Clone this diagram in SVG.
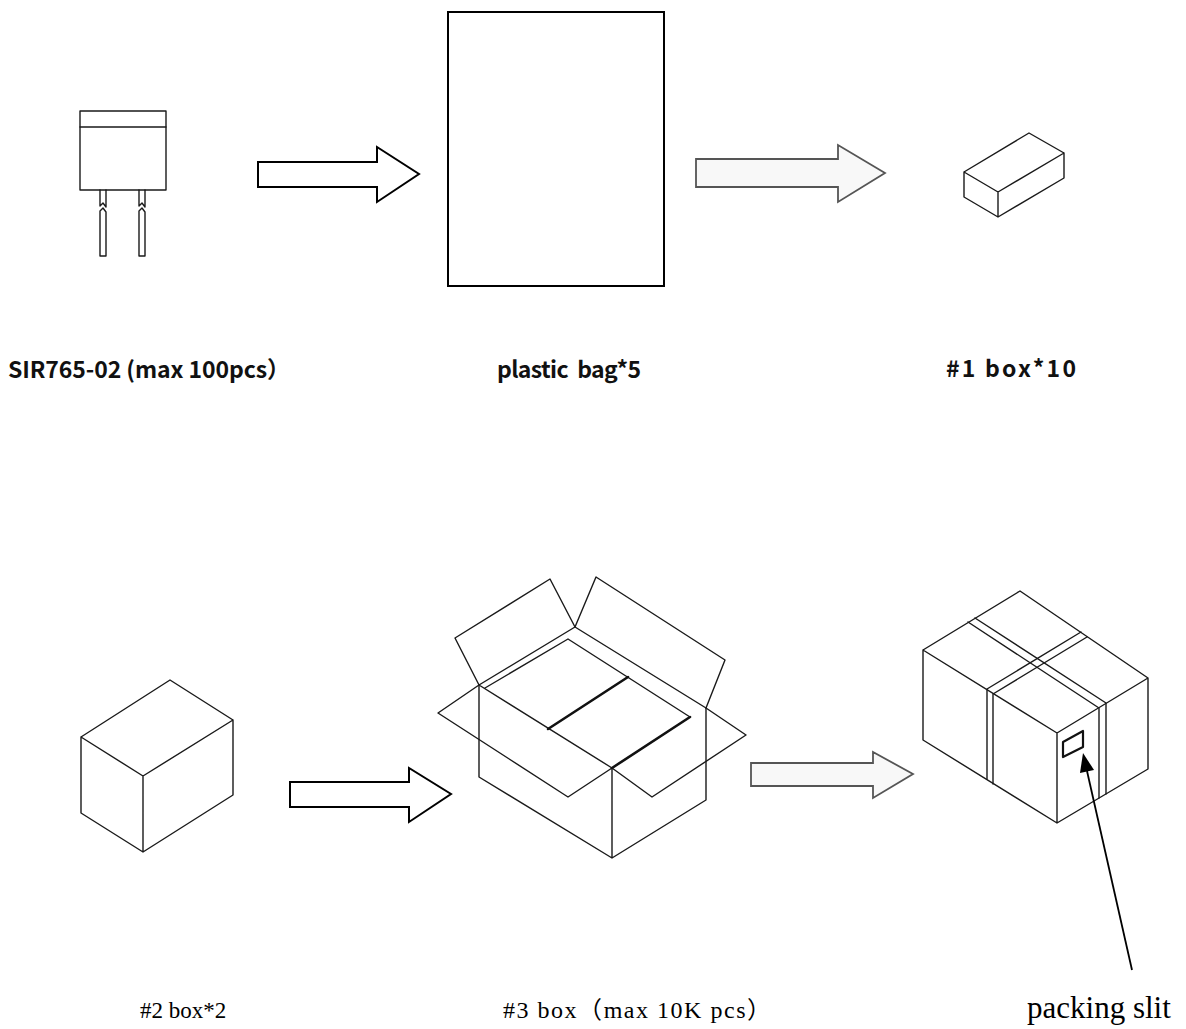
<svg xmlns="http://www.w3.org/2000/svg" width="1186" height="1029" viewBox="0 0 1186 1029">
<style>
.ln{fill:none;stroke:#1a1a1a;stroke-width:1.4;stroke-linejoin:round;stroke-linecap:round}
.fw{fill:#fff;stroke:#1a1a1a;stroke-width:1.4;stroke-linejoin:round}
.th{fill:none;stroke:#111;stroke-width:2.6;stroke-linecap:round}
.ab{fill:#fff;stroke:#000;stroke-width:2;stroke-linejoin:miter}
.ag{fill:#f8f8f8;stroke:#555;stroke-width:1.8;stroke-linejoin:miter}
.lt{font-family:"Noto Sans CJK SC","Noto Sans",sans-serif;font-weight:bold;font-size:23px;fill:#111;white-space:pre}
.lb{font-family:"Liberation Serif","Noto Sans CJK SC",serif;font-size:23px;fill:#000;white-space:pre}
</style>
<rect width="1186" height="1029" fill="#fff"/>

<g id="component">
<rect class="fw" x="80" y="111" width="86" height="79"/>
<line class="ln" x1="80" y1="127" x2="166" y2="127"/>
<path class="ln" d="M100,190 V206 L103,203 L106,207 V190"/>
<path class="ln" d="M100,256 V211 L103,208 L106,212 V256 Z"/>
<path class="ln" d="M139,190 V206 L142,203 L145,207 V190"/>
<path class="ln" d="M139,256 V211 L142,208 L145,212 V256 Z"/>
</g>

<g id="plastic-bag">
<rect x="448" y="12" width="216" height="274" fill="#fff" stroke="#000" stroke-width="2"/>
</g>

<g id="box1">
<path class="ln" d="M964,172 L1029,133 L1064,153 L998,192 Z M964,172 V197 L998,217 L1064,178 V153 M998,192 V217"/>
</g>

<g id="box2">
<path class="ln" d="M81,737 L170,680 L233,720 L143,776 Z M81,737 V813 L143,852 L233,795 V720 M143,776 V852"/>
</g>

<g id="box3-open">
<path class="ln" d="M479,685 V777 L612,858 L706,800 V708 M612,768 V858"/>
<path class="ln" d="M479,685 L575,627 L706,708 M479,685 L612,768"/>
<path class="ln" d="M479,685 L455,638 L550,579 L575,627"/>
<path class="ln" d="M575,627 L596,577 L725,660 L706,708"/>
<path class="ln" d="M479,685 L438,713 L568,797 L612,768"/>
<path class="ln" d="M612,768 L652,797 L746,735 L706,708"/>
<path class="ln" d="M485,688 L568,639 L690,717"/>
<path class="th" d="M612,768 L690,717"/>
<path class="th" d="M548,729 L628,677"/>
</g>

<g id="box3-closed">
<path class="ln" d="M923,650 L1020,591 L1148,678 L1057,733 Z M923,650 V740 L1057,823 L1148,769 V678 M1057,733 V823"/>
<path class="ln" d="M968,622 L1099,708 V798 M975,618 L1106,703 V794"/>
<path class="ln" d="M1081,632 L987,689 V779 M1087,637 L993,694 V784"/>
<path d="M1063,742 L1083,731 V747 L1063,757 Z" fill="none" stroke="#111" stroke-width="2.2" stroke-linejoin="round"/>
</g>

<g id="connectors">
<polygon class="ab" points="258,162 377,162 377,147 419,174 377,202 377,187 258,187"/>
<polygon class="ag" points="696,159 838,159 838,145 885,173 838,202 838,187 696,187"/>
<polygon class="ab" points="290,782 409,782 409,768 451,794 409,822 409,807 290,807"/>
<polygon class="ag" points="751,763 873,763 873,752 913,774 873,798 873,786 751,786"/>
<line x1="1132" y1="970" x2="1087" y2="771" stroke="#000" stroke-width="1.8"/>
<polygon points="1083,753 1094,770 1080,773" fill="#000"/>
</g>

<g id="labels">
<text class="lt" x="8" y="378" textLength="282">SIR765-02 (max 100pcs）</text>
<text class="lt" x="497" y="378" textLength="144">plastic  bag*5</text>
<text class="lt" x="946" y="377" textLength="130">#1 box*10</text>
<text class="lb" x="140" y="1018">#2 box*2</text>
<text class="lb" x="503" y="1018" style="font-size:24px" textLength="268">#3 box（max 10K pcs）</text>
<text class="lb" x="1027" y="1018" style="font-size:31px">packing slit</text>
</g>
</svg>
